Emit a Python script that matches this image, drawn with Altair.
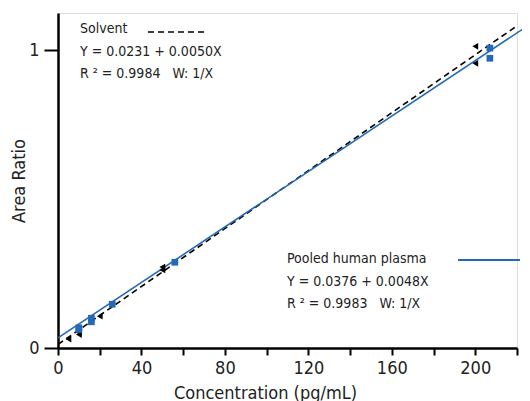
import altair as alt
import pandas as pd

# Data
solvent_x = [5, 10, 10, 20, 50, 50, 200, 200]
solvent_y = [0.030, 0.045, 0.052, 0.107, 0.262, 0.272, 1.013, 0.956]
plasma_x = [10, 10, 16, 16, 26, 56, 207, 207]
plasma_y = [0.062, 0.068, 0.088, 0.100, 0.147, 0.288, 1.007, 0.973]

# Fitted lines (end points as drawn)
solvent_line_x = [0, 220]
solvent_line_y = [0.012, 1.082]
plasma_line_x = [0, 226]
plasma_line_y = [0.034, 1.086]

x_ticks = [0, 20, 40, 60, 80, 100, 120, 140, 160, 180, 200, 220]
y_ticks = [0, 1]

NB = "\u00a0"
solvent_text = ["Solvent", "Y = 0.0231 + 0.0050X", f"R{NB}² = 0.9984{NB}{NB}{NB}W: 1/X"]
plasma_text = ["Pooled human plasma", "Y = 0.0376 + 0.0048X", f"R{NB}² = 0.9983{NB}{NB}{NB}W: 1/X"]

FONT = "DejaVu Sans Condensed, Liberation Sans Narrow, sans-serif"
BLUE = "#2468b8"

pts_s = pd.DataFrame({"x": solvent_x, "y": solvent_y})
pts_p = pd.DataFrame({"x": plasma_x, "y": plasma_y})
ln_s = pd.DataFrame({"x": solvent_line_x, "y": solvent_line_y})
ln_p = pd.DataFrame({"x": plasma_line_x, "y": plasma_line_y})

xs = alt.Scale(domain=[0, 220], nice=False, zero=False)
ys = alt.Scale(domain=[0, 1.125], nice=False, zero=False)

xaxis = alt.Axis(values=x_ticks, labelExpr="(datum.value % 40 == 0 && datum.value < 220) ? datum.label : ''",
                 title="Concentration (pg/mL)", grid=False, tickSize=7, tickWidth=2,
                 domainWidth=2.5, domainColor="black", tickColor="black", labelFlush=False,
                 labelFont=FONT, labelFontSize=18, labelColor="#222", labelPadding=4,
                 titleFont=FONT, titleFontSize=18, titleFontWeight="normal", titleColor="#222",
                 titleX=207, titleY=50, titleBaseline="alphabetic")
yaxis = alt.Axis(values=y_ticks, format="d", title="Area Ratio", grid=False, tickSize=14, tickWidth=2,
                 domainWidth=2.5, domainColor="black", tickColor="black", labelFlush=False,
                 labelFont=FONT, labelFontSize=18, labelColor="#222", labelPadding=5,
                 titleFont=FONT, titleFontSize=18, titleFontWeight="normal", titleColor="#222",
                 titleX=-30, titleBaseline="bottom")

base_x = alt.X("x:Q", scale=xs, axis=xaxis)
base_y = alt.Y("y:Q", scale=ys, axis=yaxis)

line_s = alt.Chart(ln_s).mark_line(color="black", strokeDash=[6, 4], strokeWidth=1.6, clip=False).encode(
    x=base_x, y=base_y)
line_p = alt.Chart(ln_p).mark_line(color=BLUE, strokeWidth=1.6, clip=False).encode(
    x=alt.X("x:Q", scale=xs), y=alt.Y("y:Q", scale=ys))
pt_s = alt.Chart(pts_s).mark_point(shape="triangle-left", filled=True, color="black", size=45, opacity=1).encode(
    x=alt.X("x:Q", scale=xs), y=alt.Y("y:Q", scale=ys))
pt_p = alt.Chart(pts_p).mark_point(shape="square", filled=True, color=BLUE, size=45, opacity=1).encode(
    x=alt.X("x:Q", scale=xs), y=alt.Y("y:Q", scale=ys))

def text_block(lines, x0, y0, dy):
    layers = []
    for i, t in enumerate(lines):
        layers.append(alt.Chart(pd.DataFrame({"t": [t]})).mark_text(
            align="left", baseline="alphabetic", font=FONT, fontSize=14, color="#222").encode(
            x=alt.value(x0), y=alt.value(y0 + i * dy), text="t:N"))
    return layers

leg_s = alt.Chart(pd.DataFrame({"a": [0]})).mark_rule(color="black", strokeDash=[6, 4], strokeWidth=1.6).encode(
    x=alt.value(90), x2=alt.value(150), y=alt.value(19))
leg_p = alt.Chart(pd.DataFrame({"a": [0]})).mark_rule(color=BLUE, strokeWidth=2).encode(
    x=alt.value(400), x2=alt.value(462), y=alt.value(247))

chart = alt.layer(
    line_s, line_p, pt_s, pt_p, leg_s, leg_p,
    *text_block(solvent_text, 22, 20, 22.5),
    *text_block(plasma_text, 229, 250, 22.5),
).properties(
    width=459, height=335,
    padding={"left": 50, "top": 5, "right": 5, "bottom": 53},
    autosize=alt.AutoSizeParams(type="none"),
).configure_view(stroke=None).configure(background="white")

chart.save("out.html", embed_options={"renderer": "svg", "actions": False})
